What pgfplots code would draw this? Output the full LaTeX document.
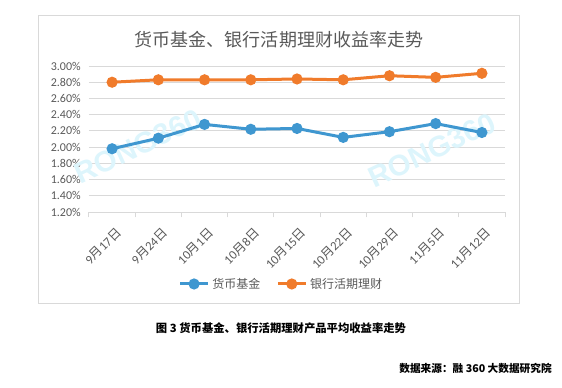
\documentclass[border=0pt]{standalone}
\usepackage{fontspec}
\setmainfont{Carlito}
\newfontfamily\cjk{Noto Sans CJK SC}
\newfontfamily\wmfont{Liberation Sans}
\usepackage{pgfplots}
\pgfplotsset{compat=1.18}
\definecolor{gridgray}{HTML}{D9D9D9}
\definecolor{txtgray}{HTML}{595959}
\definecolor{cblue}{HTML}{3F97D0}
\definecolor{corange}{HTML}{F07B2B}
\definecolor{wm}{HTML}{DDF5FC}
% pixel position (from top-left of the 562x387 reference) -> axis relative coordinates
\newcommand{\px}[2]{(rel axis cs:{(#1-89)/416},{(212-#2)/146})}
\begin{document}
\begin{tikzpicture}
\begin{axis}[
  scale only axis, width=312pt, height=109.5pt,
  xmin=-0.5, xmax=8.5, ymin=1.2, ymax=3.0,
  axis x line*=bottom, axis y line*=left,
  x axis line style={draw=gridgray, line width=0.75pt, -},
  y axis line style={draw=none},
  ymajorgrids, grid style={gridgray, line width=0.75pt},
  ytick={1.2,1.4,1.6,1.8,2.0,2.2,2.4,2.6,2.8,3.0},
  yticklabels={1.20\%,1.40\%,1.60\%,1.80\%,2.00\%,2.20\%,2.40\%,2.60\%,2.80\%,3.00\%},
  ytick style={draw=none},
  yticklabel style={font=\fontsize{9}{10}\selectfont, text=txtgray, inner sep=1pt, xshift=-5pt},
  xtick={0,1,2,3,4,5,6,7,8},
  xticklabels={9{\cjk 月}17{\cjk 日},9{\cjk 月}24{\cjk 日},10{\cjk 月}1{\cjk 日},10{\cjk 月}8{\cjk 日},10{\cjk 月}15{\cjk 日},10{\cjk 月}22{\cjk 日},10{\cjk 月}29{\cjk 日},11{\cjk 月}5{\cjk 日},11{\cjk 月}12{\cjk 日}},
  major tick length=0pt,
  xticklabel style={font=\fontsize{9.5}{10}\selectfont, text=txtgray, rotate=45, anchor=north east, inner sep=1pt, yshift=-8pt, xshift=-5pt},
  extra x ticks={-0.5,0.5,1.5,2.5,3.5,4.5,5.5,6.5,7.5,8.5},
  extra x tick labels={},
  extra x tick style={major tick length=4pt, tick align=outside, tick style={draw=gridgray, line width=0.75pt}, grid=none},
  clip=false,
  legend columns=2,
  legend style={at={(0.463,-0.493)}, anchor=center, draw=none, fill=none,
    font=\cjk\fontsize{9}{10}\selectfont, text=txtgray,
    /tikz/every even column/.append style={column sep=10pt}},
  legend image code/.code={\draw[#1,mark repeat=2,mark phase=2] plot coordinates {(0cm,0cm) (0.37cm,0cm) (0.74cm,0cm)};},
]
% canvas extent and frame
\path \px{0}{0} rectangle \px{562}{387};
\draw[gridgray,line width=0.75pt] \px{39}{15} rectangle \px{519}{303};
% watermarks
\node[rotate=25,text=wm,font=\wmfont\bfseries\fontsize{22}{22}\selectfont] at \px{138}{146} {RONG360};
\node[rotate=25,text=wm,font=\wmfont\bfseries\fontsize{22}{22}\selectfont] at \px{432}{150} {RONG360};
% title
\node[text=txtgray,font=\cjk\fontsize{13.5}{14}\selectfont] at \px{279}{40} {货币基金、银行活期理财收益率走势};
\addplot[cblue, line width=2.25pt, mark=*, mark size=3pt, mark options={solid}] coordinates {
(0,1.98)(1,2.11)(2,2.28)(3,2.22)(4,2.23)(5,2.12)(6,2.19)(7,2.29)(8,2.18)};
\addlegendentry{货币基金}
\addplot[corange, line width=2.25pt, mark=*, mark size=3pt, mark options={solid}] coordinates {
(0,2.80)(1,2.83)(2,2.83)(3,2.83)(4,2.84)(5,2.83)(6,2.88)(7,2.86)(8,2.91)};
\addlegendentry{银行活期理财}
% caption and source
\node[font=\cjk\bfseries\fontsize{8.5}{10}\selectfont] at \px{281}{328} {图 3 货币基金、银行活期理财产品平均收益率走势};
\node[font=\cjk\bfseries\fontsize{8}{10}\selectfont, anchor=east, inner sep=0pt] at \px{552}{368} {数据来源：融 360 大数据研究院};
\end{axis}
\end{tikzpicture}
\end{document}
